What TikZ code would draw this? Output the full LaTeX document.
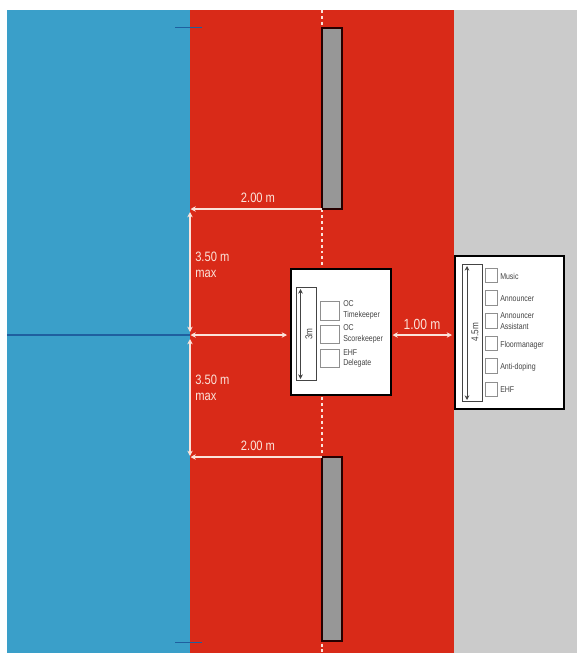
\documentclass[tikz,border=0pt]{standalone}
\usepackage{fontspec}
\setmainfont[FakeStretch=0.82]{Liberation Sans}
\usetikzlibrary{arrows.meta}
\definecolor{cblue}{HTML}{3A9FC9}
\definecolor{cred}{HTML}{D92A18}
\definecolor{cgray}{HTML}{CBCBCB}
\definecolor{cpost}{HTML}{979797}
\definecolor{cline}{HTML}{1F5F9F}
\definecolor{cwhite}{HTML}{FBE3DA}
\definecolor{ctext}{HTML}{444444}
\tikzset{
  x=0.75pt,y=-0.75pt,
  post/.style={draw=black!85!red,fill=cpost,line width=1.1pt},
  bigbox/.style={draw=black,fill=white,line width=1.5pt},
  dimbox/.style={draw=ctext,fill=white,line width=0.6pt},
  tick/.style={draw=ctext!60!white,fill=white,line width=0.6pt},
  dimline/.style={draw=cwhite,line width=0.9pt,{Stealth[length=4pt,width=4pt]}-{Stealth[length=4pt,width=4pt]}},
  oneway/.style={draw=cwhite,line width=0.9pt,-{Stealth[length=4pt,width=4pt]}},
  inarrow/.style={draw=ctext,line width=0.6pt,{Stealth[length=3.5pt,width=3.5pt]}-{Stealth[length=3.5pt,width=3.5pt]}},
  redlabel/.style={text=cwhite,font=\fontsize{10.2}{12}\selectfont,inner sep=0pt},
  redleft/.style={redlabel,anchor=west,align=left},
  boxlabel/.style={text=ctext,font=\fontsize{6.4}{8}\selectfont,inner sep=0pt,anchor=west,align=left},
  sidelabel/.style={text=ctext,font=\fontsize{7.5}{9}\selectfont,inner sep=0pt,rotate=90},
  centre/.style={draw=cwhite,line width=0.9pt,dash pattern=on 2.2pt off 2.2pt},
  goal/.style={draw=cline,line width=1pt}
}
\begin{document}
\begin{tikzpicture}
\useasboundingbox (0,0) rectangle (577,653);
\fill[white] (0,0) rectangle (577,653);
\fill[cblue] (7,10) rectangle (190,653);
\fill[cred] (190,10) rectangle (454,653);
\fill[cgray] (454,10) rectangle (577,653);
% centre line
\coordinate (c0) at (322,10);
\coordinate (c1) at (322,653);
\draw[centre] (c0) -- (c1);
% goal line and ticks
\coordinate (gl) at (7,335);
\coordinate (gr) at (190,335);
\draw[goal] (gl) -- (gr);
\coordinate (t1) at (175,27.5); \coordinate (t2) at (202,27.5);
\coordinate (b1) at (175,642.5); \coordinate (b2) at (202,642.5);
\draw[goal] (t1) -- (t2);
\draw[goal] (b1) -- (b2);
% posts
\draw[post] (322,28) rectangle (342,209);
\draw[post] (322,457) rectangle (342,641);
% dimension arrows
\coordinate (a1) at (322,209); \coordinate (a2) at (190.5,209);
\coordinate (a3) at (322,457); \coordinate (a4) at (190.5,457);
\coordinate (v1) at (190,212); \coordinate (v2) at (190,332);
\coordinate (v3) at (190,339); \coordinate (v4) at (190,456);
\coordinate (h1) at (190.5,335); \coordinate (h2) at (287,335);
\coordinate (r1) at (392.5,335); \coordinate (r2) at (452,335);
\draw[oneway] (a1) -- (a2);
\draw[oneway] (a3) -- (a4);
\draw[dimline] (v1) -- (v2);
\draw[dimline] (v3) -- (v4);
\draw[dimline] (h1) -- (h2);
\draw[dimline] (r1) -- (r2);
\node[redlabel] (l200a) at (258,198) {2.00 m};
\node[redlabel] (l200b) at (258,446) {2.00 m};
\node[redleft] (l350a) at (195,265) {3.50 m\\[0pt]max};
\node[redleft] (l350b) at (195,388) {3.50 m\\[0pt]max};
\node[redlabel,font=\fontsize{11}{13}\selectfont] (l100) at (422,324) {1.00 m};
% central table
\draw[bigbox] (290.5,268.5) rectangle (391,395);
\draw[dimbox] (296,287.5) rectangle (316,380);
\coordinate (i1) at (300.5,289); \coordinate (i2) at (300.5,379);
\draw[inarrow] (i1) -- (i2);
\node[sidelabel] (l3m) at (309,334) {3m};
\draw[tick] (320.5,301) rectangle (339,320);
\draw[tick] (320.5,325) rectangle (339,343.5);
\draw[tick] (320.5,349) rectangle (339,367.5);
\node[boxlabel] (oc1) at (343,310) {OC\\Timekeeper};
\node[boxlabel] (oc2) at (343,334) {OC\\Scorekeeper};
\node[boxlabel] (ehf1) at (343,358.5) {EHF\\Delegate};
% right table
\draw[bigbox] (455,256) rectangle (563.5,409);
\draw[dimbox] (462,264.5) rectangle (482,401);
\coordinate (j1) at (467,266); \coordinate (j2) at (467,400);
\draw[inarrow] (j1) -- (j2);
\node[sidelabel] (l45) at (475,332) {4.5m};
\foreach \y in {268,290.5,313.5,336,358.5,382}
  \draw[tick] (485,\y) rectangle (497,\y+14.5);
\node[boxlabel] (m1) at (500,276.5) {Music};
\node[boxlabel] (m2) at (500,298.5) {Announcer};
\node[boxlabel] (m3) at (500,321) {Announcer\\Assistant};
\node[boxlabel] (m4) at (500,345) {Floormanager};
\node[boxlabel] (m5) at (500,367.5) {Anti-doping};
\node[boxlabel] (m6) at (500,390) {EHF};
\end{tikzpicture}
\end{document}
